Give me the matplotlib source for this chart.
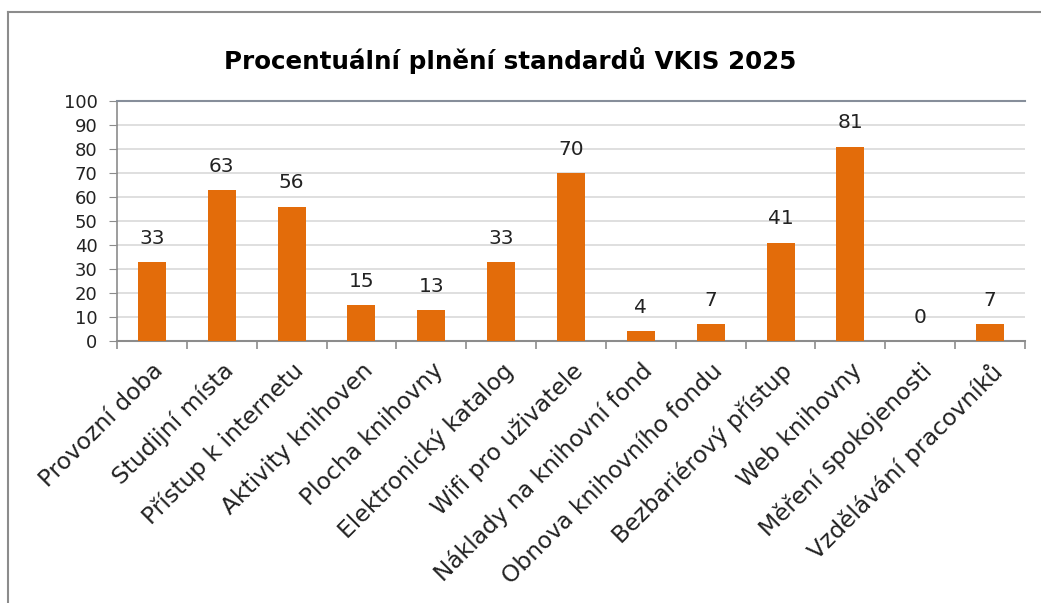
import matplotlib.pyplot as plt
import numpy as np
from matplotlib.lines import Line2D

categories = ['Provozní doba', 'Studijní místa', 'Přístup k internetu',
              'Aktivity knihoven', 'Plocha knihovny', 'Elektronický katalog',
              'Wifi pro uživatele', 'Náklady na knihovní fond',
              'Obnova knihovního fondu', 'Bezbariérový přístup',
              'Web knihovny', 'Měření spokojenosti', 'Vzdělávání pracovníků']
values = [33, 63, 56, 15, 13, 33, 70, 4, 7, 41, 81, 0, 7]
title = 'Procentuální plnění standardů VKIS 2025'

plt.rcParams['font.family'] = ['DejaVu Sans']

fig = plt.figure(figsize=(10.41, 6.03), dpi=100)
ax = fig.add_axes([117 / 1041, 1 - 341 / 603, 908 / 1041, 240 / 603])

x = np.arange(len(categories))
ax.bar(x, values, width=0.4, color='#E36C0A', zorder=3)
for xi, v in zip(x, values):
    ax.annotate(str(v), (xi, v), xytext=(0, 17), textcoords='offset points',
                ha='center', va='center', fontsize=14.5, color='#222222')

ax.set_xlim(-0.5, len(categories) - 0.5)
ax.set_ylim(0, 100)
ax.set_yticks(range(0, 101, 10))
ax.tick_params(axis='y', labelsize=13, length=6, color='#8c8c8c', pad=8, labelcolor='#222222')
ax.yaxis.grid(True, color='#d9d9d9', linewidth=1.2, zorder=0)

ax.set_xticks(x)
ax.set_xticklabels(categories, rotation=45, ha='right', rotation_mode='anchor',
                   fontsize=16.8, color='#222222')
ax.tick_params(axis='x', length=0, pad=13)
ax.set_xticks(np.arange(-0.5, len(categories)), minor=True)
ax.tick_params(axis='x', which='minor', length=6, color='#8c8c8c', width=1.2)

ax.spines['right'].set_visible(False)
ax.spines['top'].set_color('#868e9a')
ax.spines['top'].set_linewidth(1.5)
ax.spines['left'].set_color('#8c8c8c')
ax.spines['bottom'].set_color('#8c8c8c')
ax.spines['left'].set_linewidth(1.2)
ax.spines['bottom'].set_linewidth(1.5)

fig.text(510 / 1041, 1 - 60 / 603, title, ha='center', va='center',
         fontsize=17.7, fontweight='bold', color='black')

# chart border (only left and top visible in crop)
fig.add_artist(Line2D([8 / 1041, 8 / 1041], [0, 1 - 12 / 603], color='#8c8c8c', lw=1.5))
fig.add_artist(Line2D([8 / 1041, 1], [1 - 12 / 603, 1 - 12 / 603], color='#8c8c8c', lw=1.5))

fig.savefig('out.png', dpi=100)
